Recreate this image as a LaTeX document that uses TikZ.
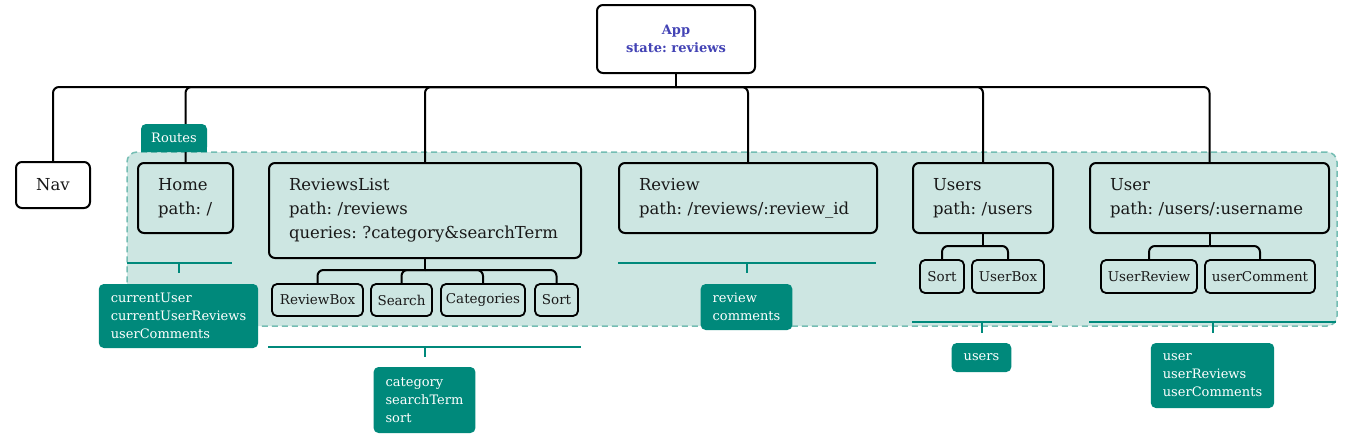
\documentclass[tikz,border=0pt]{standalone}
\usepackage{fontspec}
\setmainfont{DejaVu Serif}
\frenchspacing
\usetikzlibrary{calc, positioning}
\definecolor{routeteal}{HTML}{00897B}
\definecolor{routebg}{HTML}{CDE6E2}
\definecolor{routedash}{HTML}{74BDB3}
\definecolor{appblue}{HTML}{4343B5}
\tikzset{
  box/.style={draw=black, line width=2pt, rounded corners=6pt, text=black!90},
  route/.style={box, align=left, inner xsep=20pt, anchor=north west, font=\fontsize{16.5}{24}\selectfont},
  comp/.style={box, line width=1.8pt, rounded corners=5pt, minimum height=32pt, inner xsep=4pt, font=\fontsize{13.5}{16}\selectfont},
  props/.style={fill=routeteal, text=white, rounded corners=5pt, align=left, inner xsep=12pt, font=\fontsize{13}{18}\selectfont},
  wire/.style={line width=2pt, rounded corners=6pt},
  brace/.style={draw=routeteal, line width=2pt},
}
\begin{document}
\begin{tikzpicture}[x=1pt, y=-1pt]

\useasboundingbox (0,0) rectangle (1348,445);

\node[draw=routedash, dash pattern=on 6pt off 4pt, line width=1.5pt, fill=routebg, rounded corners=10pt, minimum width=1210pt, minimum height=174pt] at (732,239) (routes) {};

\node[box, fill=white, minimum width=158pt, minimum height=68pt, align=center, text=appblue, font=\bfseries\fontsize{13}{18}\selectfont] at (676,39) (app) {App\\state: reviews};

\node[box, fill=white, minimum width=74pt, minimum height=46pt, font=\fontsize{16.5}{24}\selectfont] at (53,185) (nav) {Nav};

\node[route, text width=55pt, minimum height=70pt] at (137,162) (home) {Home\\path: /};
\node[route, text width=272pt, minimum height=95pt] at (268,162) (reviewslist) {ReviewsList\\path: /reviews\\queries: ?category\&searchTerm};
\node[route, text width=218pt, minimum height=70pt] at (618,162) (review) {Review\\path: /reviews/:review\_id};
\node[route, text width=100pt, minimum height=70pt] at (912,162) (users) {Users\\path: /users};
\node[route, text width=199pt, minimum height=70pt] at (1089,162) (user) {User\\path: /users/:username};

\node[comp, minimum width=91pt] at (317.5,300) (reviewbox) {ReviewBox};
\node[comp, minimum width=61pt] at (401.5,300) (search) {Search};
\node[comp, minimum width=84pt] at (483,300) (categories) {Categories};
\node[comp, minimum width=43pt] at (556.5,300) (sort) {Sort};

\node[comp, minimum width=44pt, minimum height=33pt] at (942,276.5) (userssort) {Sort};
\node[comp, minimum width=72pt, minimum height=33pt] at (1008,276.5) (userbox) {UserBox};

\node[comp, minimum width=96pt, minimum height=33pt] at (1149,276.5) (userreview) {UserReview};
\node[comp, minimum width=110pt, minimum height=33pt] at (1260,276.5) (usercomment) {userComment};

\node[props, minimum height=64pt] at (178.5,316) (homeprops) {currentUser\\currentUserReviews\\userComments};
\node[props, minimum height=66pt] at (424.5,400) (listprops) {category\\searchTerm\\sort};
\node[props, minimum height=46pt] at (746.5,307) (reviewprops) {review\\comments};
\node[props, minimum height=29pt] at (981.5,357.5) (usersprops) {users};
\node[props, minimum height=65pt] at (1212.5,375.5) (userprops) {user\\userReviews\\userComments};

\coordinate (appjoin) at (676,87);
\draw[wire] (app.south) -- (appjoin);
\draw[wire] (appjoin) -| (nav.north);
\draw[wire] (appjoin) -| (home.north);
\draw[wire] (appjoin) -| (reviewslist.north);
\draw[wire] (appjoin) -| (review.north);
\draw[wire] (appjoin) -| (users.north);
\draw[wire] (appjoin) -| (user.north);

\coordinate (listjoin) at (reviewslist.south |- 0,270);
\draw[wire] (reviewslist.south) -- (listjoin);
\draw[wire] (listjoin) -| (reviewbox.north);
\draw[wire] (listjoin) -| (search.north);
\draw[wire] (listjoin) -| (categories.north);
\draw[wire] (listjoin) -| (sort.north);

\coordinate (usersjoin) at (users.south |- 0,246);
\draw[wire] (users.south) -- (usersjoin);
\draw[wire] (usersjoin) -| (userssort.north);
\draw[wire] (usersjoin) -| (userbox.north);

\coordinate (userjoin) at (user.south |- 0,246);
\draw[wire] (user.south) -- (userjoin);
\draw[wire] (userjoin) -| (userreview.north);
\draw[wire] (userjoin) -| (usercomment.north);

\draw[brace] (127,263) -- (232,263);
\draw[brace] (homeprops.north |- 0,263) -- ++(0,10);

\draw[brace] (268,347) -- (581,347);
\draw[brace] (listprops.north |- 0,347) -- ++(0,10);

\draw[brace] (618,263) -- (876,263);
\draw[brace] (reviewprops.north |- 0,263) -- ++(0,10);

\draw[brace] (912,322) -- (1052,322);
\draw[brace] (usersprops.north |- 0,322) -- ++(0,11);

\draw[brace] (1089,322) -- (1336,322);
\draw[brace] (userprops.north |- 0,322) -- ++(0,11);

\fill[routeteal] (141,140) rectangle (207,152);
\node[fill=routeteal, text=white, rounded corners=5pt, minimum width=66pt, minimum height=28pt, font=\fontsize{13}{14}\selectfont] at (174,138) (tab) {Routes};

\end{tikzpicture}
\end{document}
